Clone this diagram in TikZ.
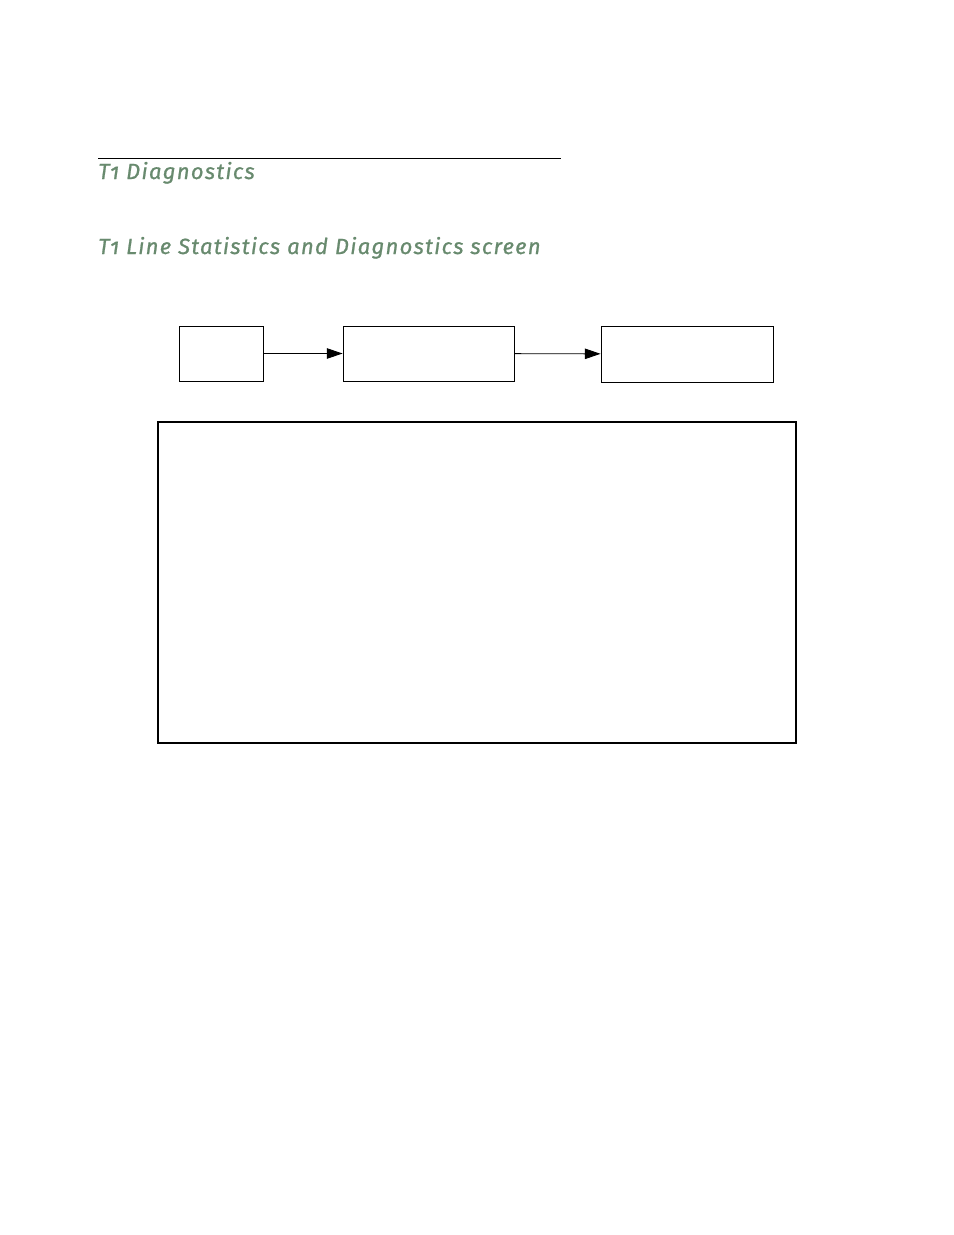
\documentclass[tikz,border=0pt]{standalone}
\usepackage{fontspec}
\setmainfont{Fira Sans}
\newfontfamily\headfont[Numbers=OldStyle,LetterSpace=6,FakeBold=0.9]{Fira Sans}
\usepackage{tikz}
\usetikzlibrary{arrows.meta,positioning}
\definecolor{headgreen}{RGB}{104,138,110}

\begin{document}
\begin{tikzpicture}[x=0.02cm, y=-0.02cm,
    heading/.style={anchor=base west, inner sep=0pt, text=headgreen, font=\headfont\itshape\fontsize{12.5}{14}\selectfont},
    stepbox/.style={draw, line width=0.5pt, inner sep=0pt},
    screenbox/.style={draw, line width=1.2pt, inner sep=0pt},
    flow/.style={-{Triangle[length=9pt,width=6pt]}, line width=0.5pt}]
    % page
    \useasboundingbox (0,0) rectangle (954,1235);

    % Section rule and headings
    \draw[line width=0.55pt] (98,158) -- (561,158);
    \node[heading] (sec) at (98,179) {T1 Diagnostics};
    \node[heading] (title) at (98,254) {T1 Line Statistics and Diagnostics screen};

    % Menu path
    \node[stepbox, minimum width=1.68cm, minimum height=1.10cm] (menu) at (221,353.5) {};
    \node[stepbox, minimum width=3.42cm, minimum height=1.10cm] (diag) at (428.5,353.5) {};
    \node[stepbox, minimum width=3.44cm, minimum height=1.12cm] (stats) at (687,354) {};
    \draw[flow] (menu) -- (diag);
    \draw[flow] (diag) -- (stats);

    % Screen
    \node[screenbox, minimum width=12.76cm, minimum height=6.42cm] (screen) at (477,582.5) {};
\end{tikzpicture}
\end{document}
